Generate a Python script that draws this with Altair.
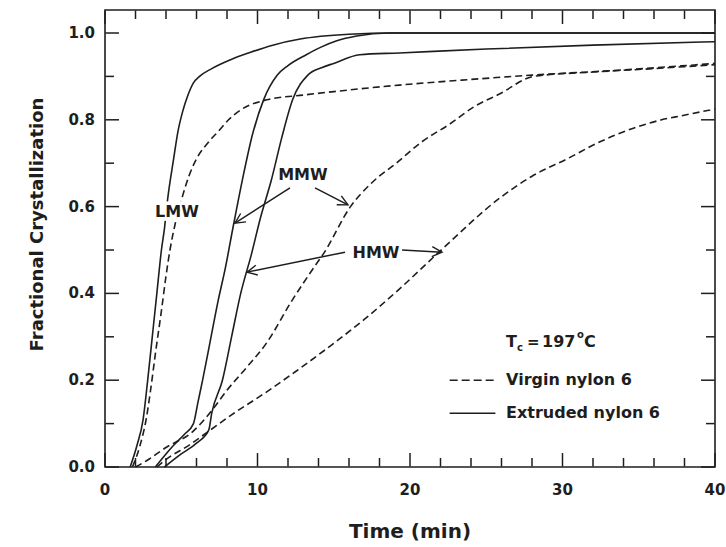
import math
import altair as alt
import pandas as pd

# ---------------- data ----------------
lmw_ext_t = [1.65, 2.1, 2.5, 2.8, 3.1, 3.4, 3.7, 3.9, 4.1, 4.5, 4.8, 5.1, 5.4, 5.8, 6.2, 7.0, 8.2, 9.5, 11.0, 12.8, 16.0, 19.0, 40.0]
lmw_ext_f = [0.0, 0.05, 0.11, 0.20, 0.30, 0.40, 0.50, 0.55, 0.615, 0.71, 0.776, 0.82, 0.853, 0.885, 0.90, 0.918, 0.938, 0.955, 0.972, 0.986, 0.997, 1.0, 1.0]

lmw_vir_t = [1.8, 2.3, 2.7, 3.0, 3.3, 3.7, 4.0, 4.26, 4.6, 5.05, 5.5, 6.0, 6.7, 7.5, 8.1, 9.0, 10.6, 13.0, 15.0, 19.3, 24.0, 28.0, 34.0, 40.0]
lmw_vir_f = [0.0, 0.05, 0.11, 0.18, 0.26, 0.36, 0.44, 0.50, 0.56, 0.62, 0.67, 0.71, 0.745, 0.776, 0.80, 0.825, 0.846, 0.857, 0.865, 0.88, 0.893, 0.903, 0.915, 0.93]

mmw_ext_t = [3.3, 4.0, 4.5, 5.2, 5.8, 6.1, 6.4, 6.9, 7.4, 7.9, 8.4, 9.0, 9.7, 10.4, 11.3, 12.0, 13.2, 14.2, 15.2, 16.5, 18.6, 40.0]
mmw_ext_f = [0.0, 0.03, 0.05, 0.075, 0.10, 0.15, 0.20, 0.29, 0.38, 0.46, 0.553, 0.66, 0.77, 0.846, 0.903, 0.925, 0.95, 0.968, 0.982, 0.993, 1.0, 1.0]

mmw_vir_t = [2.0, 2.75, 4.0, 5.7, 7.0, 8.0, 9.3, 10.6, 12.2, 13.9, 14.3, 16.1, 17.5, 19.1, 20.8, 22.6, 24.2, 25.9, 28.1, 32.0, 36.0, 40.0]
mmw_vir_f = [0.0, 0.015, 0.045, 0.08, 0.13, 0.177, 0.23, 0.286, 0.38, 0.47, 0.49, 0.60, 0.655, 0.70, 0.75, 0.79, 0.83, 0.86, 0.90, 0.91, 0.918, 0.927]

hmw_ext_t = [3.9, 5.0, 6.0, 6.8, 7.0, 7.7, 8.3, 8.9, 9.6, 10.2, 10.9, 11.6, 12.3, 13.3, 14.2, 15.0, 16.7, 19.3, 25.0, 32.0, 40.0]
hmw_ext_f = [0.0, 0.03, 0.055, 0.085, 0.124, 0.20, 0.30, 0.40, 0.49, 0.575, 0.66, 0.76, 0.846, 0.903, 0.92, 0.93, 0.95, 0.954, 0.963, 0.972, 0.98]

hmw_vir_t = [3.4, 4.1, 5.5, 6.9, 8.5, 10.3, 12.5, 15.0, 17.0, 19.3, 22.2, 25.9, 28.0, 30.3, 32.5, 34.6, 36.5, 37.9, 40.0]
hmw_vir_f = [0.0, 0.02, 0.05, 0.085, 0.125, 0.166, 0.22, 0.285, 0.34, 0.41, 0.505, 0.62, 0.67, 0.71, 0.75, 0.78, 0.80, 0.81, 0.825]

# axis ticks and tick labels
x_major = [0, 10, 20, 30, 40]
x_major_labels = ["0", "10", "20", "30", "40"]
x_minor = [2, 4, 6, 8, 12, 14, 16, 18, 22, 24, 26, 28, 32, 34, 36, 38]
y_major = [0.0, 0.2, 0.4, 0.6, 0.8, 1.0]
y_major_labels = ["0.0", "0.2", "0.4", "0.6", "0.8", "1.0"]
y_minor = [0.1, 0.3, 0.5, 0.7, 0.9]
x_title = "Time (min)"
y_title = "Fractional Crystallization"

# annotations
label_text = ["LMW", "MMW", "HMW"]
label_t = [4.72, 12.98, 17.77]
label_f = [0.588, 0.673, 0.493]

arrow_t0 = [12.13, 13.77, 15.74, 19.48]
arrow_f0 = [0.643, 0.643, 0.495, 0.500]
arrow_t1 = [8.52, 15.93, 9.31, 22.10]
arrow_f1 = [0.562, 0.604, 0.449, 0.495]

legend_names = ["Virgin nylon 6", "Extruded nylon 6"]
legend_f = [0.200, 0.124]
legend_line_t0 = 22.6
legend_line_t1 = 25.6
legend_text_t = 26.3
tc_t = 26.3
tc_f = 0.288

# ---------------- layout ----------------
W, H = 610, 457
X_DOM = [0, 40]
Y_DOM = [0, 1.053]
FONT = "DejaVu Sans"
INK = "#1e1e1e"
MAJOR_PX, MINOR_PX = 14, 9

# pixels per data unit (used for tick lengths and arrow angles)
sx = W / (X_DOM[1] - X_DOM[0])
sy = H / (Y_DOM[1] - Y_DOM[0])

rows = []
for name, kind, ts, fs in [
    ("LMW", "Extruded", lmw_ext_t, lmw_ext_f),
    ("LMW", "Virgin", lmw_vir_t, lmw_vir_f),
    ("MMW", "Extruded", mmw_ext_t, mmw_ext_f),
    ("MMW", "Virgin", mmw_vir_t, mmw_vir_f),
    ("HMW", "Extruded", hmw_ext_t, hmw_ext_f),
    ("HMW", "Virgin", hmw_vir_t, hmw_vir_f),
]:
    for i, (t, f) in enumerate(zip(ts, fs)):
        rows.append({"series": f"{name}-{kind}", "kind": kind, "i": i, "t": t, "f": f})
curves = pd.DataFrame(rows)

xs = alt.Scale(domain=X_DOM, nice=False, zero=False)
ys = alt.Scale(domain=Y_DOM, nice=False, zero=False)


def X(field):
    return alt.X(field, type="quantitative", scale=xs, axis=None)


def Y(field):
    return alt.Y(field, type="quantitative", scale=ys, axis=None)


solid = alt.Chart(curves).transform_filter(alt.datum.kind == "Extruded").mark_line(
    color=INK, strokeWidth=1.6, interpolate="monotone"
).encode(x=X("t"), y=Y("f"), detail="series:N", order="i:Q")

dashed = alt.Chart(curves).transform_filter(alt.datum.kind == "Virgin").mark_line(
    color=INK, strokeWidth=1.6, strokeDash=[7, 4], interpolate="monotone"
).encode(x=X("t"), y=Y("f"), detail="series:N", order="i:Q")

# ---- straight segments: arrow shafts + inward frame ticks on all four sides ----
seg_rows = []
for a, b, c, d in zip(arrow_t0, arrow_f0, arrow_t1, arrow_f1):
    seg_rows.append({"t0": a, "f0": b, "t1": c, "f1": d, "w": 1.4})
for vals, px in [(x_major, MAJOR_PX), (x_minor, MINOR_PX)]:
    L = px / sy
    for v in vals:
        seg_rows.append({"t0": v, "f0": Y_DOM[0] + 0.001, "t1": v, "f1": Y_DOM[0] + L, "w": 1.5})
        seg_rows.append({"t0": v, "f0": Y_DOM[1] - 0.001, "t1": v, "f1": Y_DOM[1] - L, "w": 1.5})
for vals, px in [(y_major, MAJOR_PX), (y_minor, MINOR_PX)]:
    L = px / sx
    for v in vals:
        seg_rows.append({"t0": X_DOM[0] + 0.02, "f0": v, "t1": X_DOM[0] + L, "f1": v, "w": 1.5})
        seg_rows.append({"t0": X_DOM[1] - 0.02, "f0": v, "t1": X_DOM[1] - L, "f1": v, "w": 1.5})
segs_df = pd.DataFrame(seg_rows)

segments = alt.Chart(segs_df).mark_rule(color=INK, strokeWidth=1.5).encode(
    x=X("t0"), y=Y("f0"), x2="t1:Q", y2="f1:Q",
)

# ---- tick labels and axis titles ----
xt_major = pd.DataFrame({"v": x_major, "lab": x_major_labels, "lo": Y_DOM[0]})
yt_major = pd.DataFrame({"v": y_major, "lab": y_major_labels, "lo": X_DOM[0]})

x_labels = alt.Chart(xt_major).mark_text(
    font=FONT, fontSize=15, fontWeight="bold", color=INK,
    align="center", baseline="middle", yOffset=23,
).encode(x=X("v"), y=Y("lo"), text="lab:N")

y_labels = alt.Chart(yt_major).mark_text(
    font=FONT, fontSize=15, fontWeight="bold", color=INK,
    align="right", baseline="middle", xOffset=-10,
).encode(x=X("lo"), y=Y("v"), text="lab:N")

titles_df = pd.DataFrame({"xt": [x_title], "yt": [y_title],
                          "xmid": [(X_DOM[0] + X_DOM[1]) / 2], "xlo": [X_DOM[0]],
                          "ylo": [Y_DOM[0]], "ymid": [(Y_DOM[0] + Y_DOM[1]) / 2]})
x_title_mark = alt.Chart(titles_df).mark_text(
    font=FONT, fontSize=20, fontWeight="bold", color=INK,
    align="center", baseline="middle", yOffset=65,
).encode(x=X("xmid"), y=Y("ylo"), text="xt:N")

y_title_mark = alt.Chart(titles_df).mark_text(
    font=FONT, fontSize=18, fontWeight="bold", color=INK, angle=270,
    align="center", baseline="middle", xOffset=-67, yOffset=-14,
).encode(x=X("xlo"), y=Y("ymid"), text="yt:N")

# ---- annotation labels (with white halo) ----
labels_df = pd.DataFrame({"text": label_text, "t": label_t, "f": label_f})
label_halo = alt.Chart(labels_df).mark_text(
    font=FONT, fontSize=16, fontWeight="bold", color="white", stroke="white",
    strokeWidth=7, align="center", baseline="middle",
).encode(x=X("t"), y=Y("f"), text="text:N")
label_txt = alt.Chart(labels_df).mark_text(
    font=FONT, fontSize=16, fontWeight="bold", color=INK, align="center", baseline="middle",
).encode(x=X("t"), y=Y("f"), text="text:N")

# ---- arrow heads ----
angles = []
for a, b, c, d in zip(arrow_t0, arrow_f0, arrow_t1, arrow_f1):
    dx = (c - a) * sx
    dy = -(d - b) * sy
    angles.append(math.degrees(math.atan2(dy, dx)) % 360)
arrows_df = pd.DataFrame({"t1": arrow_t1, "f1": arrow_f1, "ang": angles})

heads = alt.Chart(arrows_df).mark_point(
    shape="M -1 -0.5 L 0 0 L -1 0.5", filled=False, size=400, color=INK,
    strokeWidth=1.4, opacity=1,
).encode(x=X("t1"), y=Y("f1"), angle=alt.Angle("ang:Q", scale=None))

# ---- legend ----
leg_df = pd.DataFrame({"name": legend_names, "f": legend_f,
                       "t0": [legend_line_t0] * 2, "t1": [legend_line_t1] * 2,
                       "tt": [legend_text_t] * 2})
leg_dash = alt.Chart(leg_df.iloc[[0]]).mark_rule(color=INK, strokeWidth=1.6, strokeDash=[8, 4]).encode(
    x=X("t0"), x2="t1:Q", y=Y("f"),
)
leg_solid = alt.Chart(leg_df.iloc[[1]]).mark_rule(color=INK, strokeWidth=1.6).encode(
    x=X("t0"), x2="t1:Q", y=Y("f"),
)
leg_text = alt.Chart(leg_df).mark_text(
    font=FONT, fontSize=16, fontWeight="bold", color=INK, align="left", baseline="middle",
).encode(x=X("tt"), y=Y("f"), text="name:N")

tc_df = pd.DataFrame({"t": [tc_t], "f": [tc_f]})


def tc_part(txt, dx, dy, size):
    return alt.Chart(tc_df).mark_text(
        text=txt, font=FONT, fontSize=size, fontWeight="bold", color=INK,
        align="left", baseline="middle", dx=dx, dy=dy,
    ).encode(x=X("t"), y=Y("f"))


tc_layers = [
    tc_part("T", 0, 0, 16),
    tc_part("c", 11, 6, 10),
    tc_part("=", 21, 0, 15),
    tc_part("197", 36, 0, 16),
    tc_part("o", 71, -7, 10),
    tc_part("C", 78, 0, 16),
]

chart = alt.layer(
    solid, dashed, x_labels, y_labels, x_title_mark, y_title_mark,
    label_halo, segments, heads, label_txt,
    leg_dash, leg_solid, leg_text, *tc_layers,
).properties(
    width=W, height=H,
    autosize=alt.AutoSizeParams(type="none"),
    padding={"left": 105, "top": 10, "right": 11, "bottom": 80},
    background="white",
).configure_view(
    stroke=INK, strokeWidth=1.6
)

chart.save("out.html", embed_options={"renderer": "svg", "actions": False})
